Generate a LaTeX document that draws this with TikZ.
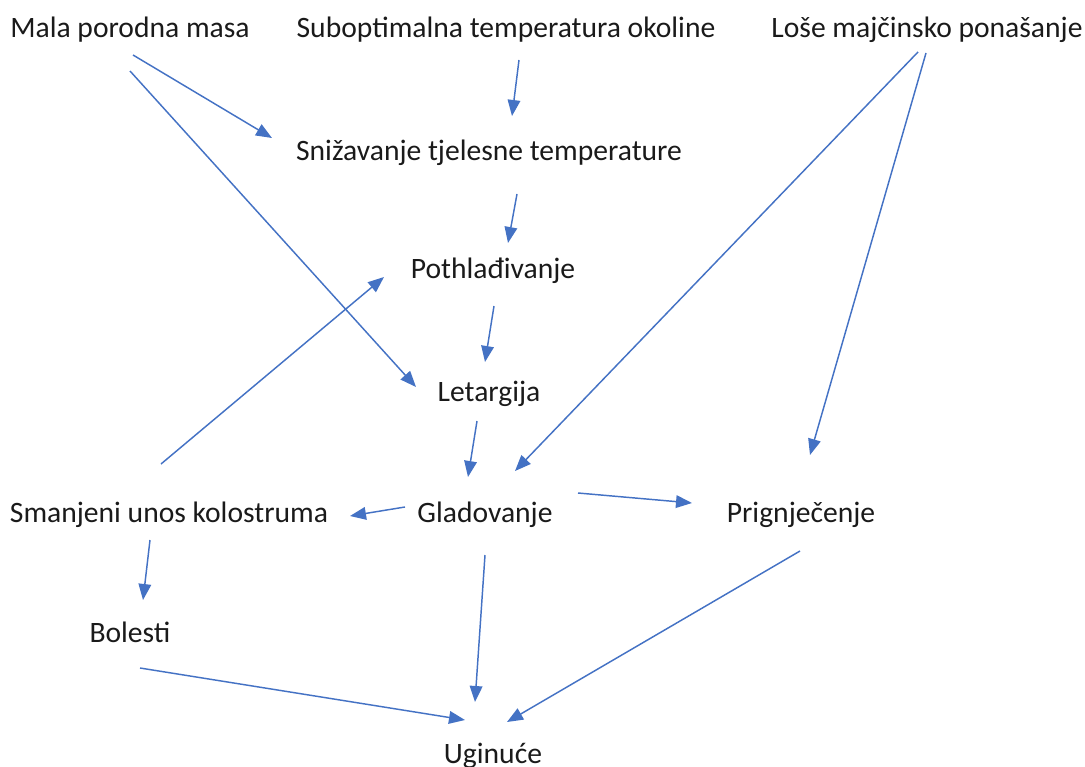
\documentclass[tikz,border=0pt]{standalone}
\usepackage{fontspec}
\setmainfont{Carlito}
\usetikzlibrary{arrows.meta}
\definecolor{arrowblue}{HTML}{4472C4}
\definecolor{txtgray}{HTML}{1A1A1A}
\tikzset{
	lbl/.style={anchor=base,inner sep=0pt,text=txtgray,font=\fontsize{22.2}{26}\selectfont},
	arr/.style={draw=arrowblue,line width=1.1pt,-{Triangle[length=12pt,width=9.5pt]}}
}
\begin{document}
\begin{tikzpicture}[x=0.75pt,y=-0.75pt]
\useasboundingbox (0,0) rectangle (1085,767);
% causes
\node [lbl] (mala) at (130,38) {Mala porodna masa};
\node [lbl] (subopt) at (506,38) {Suboptimalna temperatura okoline};
\node [lbl] (lose) at (927,38) {Loše majčinsko ponašanje};
% chain
\node [lbl] (sniz) at (489,160) {Snižavanje tjelesne temperature};
\node [lbl] (poth) at (493,278) {Pothlađivanje};
\node [lbl] (letarg) at (489,401) {Letargija};
\node [lbl] (glad) at (485,522) {Gladovanje};
\node [lbl] (smanj) at (169,522) {Smanjeni unos kolostruma};
\node [lbl] (prig) at (801,522) {Prignječenje};
\node [lbl] (bol) at (130,642) {Bolesti};
\node [lbl] (ugin) at (493,763) {Uginuće};
% arrows
\draw [arr] ([shift={(3,17)}]mala.base) -- ([shift={(-217,-22)}]sniz.base);
\draw [arr] ([shift={(0,33)}]mala.base) -- ([shift={(-73,-14)}]letarg.base);
\draw [arr] ([shift={(13,22)}]subopt.base) -- ([shift={(23,-44)}]sniz.base);
\draw [arr] ([shift={(-9,14)}]lose.base) -- ([shift={(30,-51)}]glad.base);
\draw [arr] ([shift={(-1,15)}]lose.base) -- ([shift={(9,-67)}]prig.base);
\draw [arr] ([shift={(28,34)}]sniz.base) -- ([shift={(15,-35)}]poth.base);
\draw [arr] ([shift={(1,28)}]poth.base) -- ([shift={(-4,-39)}]letarg.base);
\draw [arr] ([shift={(-12,20)}]letarg.base) -- ([shift={(-17,-45)}]glad.base);
\draw [arr] ([shift={(-8,-58)}]smanj.base) -- ([shift={(-109,-1)}]poth.base);
\draw [arr] ([shift={(-80,-15)}]glad.base) -- ([shift={(181,-6)}]smanj.base);
\draw [arr] ([shift={(93,-29)}]glad.base) -- ([shift={(-109,-19)}]prig.base);
\draw [arr] ([shift={(-19,18)}]smanj.base) -- ([shift={(13,-42)}]bol.base);
\draw [arr] ([shift={(0,33)}]glad.base) -- ([shift={(-18,-61)}]ugin.base);
\draw [arr] ([shift={(10,26)}]bol.base) -- ([shift={(-28,-43)}]ugin.base);
\draw [arr] ([shift={(-1,29)}]prig.base) -- ([shift={(14,-41)}]ugin.base);
\end{tikzpicture}
\end{document}
